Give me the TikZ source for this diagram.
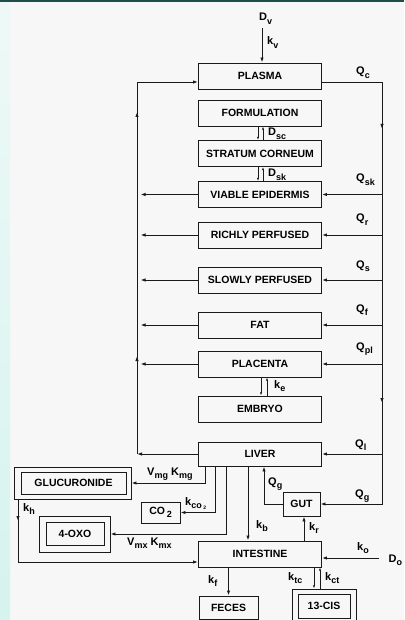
\documentclass[tikz,border=0pt]{standalone}
\usepackage{fontspec}
\setmainfont{Liberation Sans}
\usetikzlibrary{arrows.meta}
\newcommand\lo[1]{\raisebox{-3.4pt}{\fontsize{9}{10}\selectfont #1}}
\definecolor{ink}{HTML}{1A1A1A}
\definecolor{bgc}{HTML}{F7F7F7}
\definecolor{topband}{HTML}{1F4D47}
\definecolor{stripA}{HTML}{EEF9F7}
\definecolor{stripB}{HTML}{D6F3EE}
\begin{document}
\begin{tikzpicture}[x=1pt,y=-1pt,
  ln/.style={draw=ink, line width=0.95pt},
  arr/.style={ln, -{Latex[length=5pt,width=3.4pt]}},
  sarr/.style={draw=ink, line width=0.8pt, -{Latex[length=3.2pt,width=2.2pt]}},
  boxfont/.style={font=\fontsize{10.5}{12}\selectfont\bfseries},
  mbox/.style={boxfont, draw=ink, line width=0.95pt, minimum width=123pt, minimum height=26pt, inner sep=0pt},
  sbox/.style={boxfont, draw=ink, line width=0.95pt, inner sep=0pt},
  lbl/.style={font=\fontsize{11}{12}\selectfont\bfseries, inner sep=0pt, anchor=base west}]
\fill[bgc] (0,0) rectangle (404,620);
\shade[top color=stripA, bottom color=stripB] (0,0) rectangle (10,620);
\fill[topband] (0,0) rectangle (404,2.5);
\useasboundingbox (0,0) rectangle (404,620);

% main column
\node[mbox] (plasma) at (260,76) {PLASMA};
\node[mbox] (formulation) at (260,113) {FORMULATION};
\node[mbox] (stratum) at (260,153.5) {STRATUM CORNEUM};
\node[mbox] (viable) at (260,194.5) {VIABLE EPIDERMIS};
\node[mbox] (richly) at (260,235) {RICHLY PERFUSED};
\node[mbox] (slowly) at (260,280) {SLOWLY PERFUSED};
\node[mbox] (fat) at (260,325) {FAT};
\node[mbox] (placenta) at (260,364) {PLACENTA};
\node[mbox] (embryo) at (260,409) {EMBRYO};
\node[mbox, minimum height=24pt] (liver) at (260,454) {LIVER};
\node[mbox] (intestine) at (260,554) {INTESTINE};

% side boxes
\node[sbox, minimum width=117pt, minimum height=32pt] (gluc) at (72.5,483) {};
\node[sbox, minimum width=105pt, minimum height=22pt] (glucin) at (73.5,483) {GLUCURONIDE};
\node[sbox, minimum width=39pt, minimum height=21pt] (co2) at (160.5,512.5) {CO\,\lo{2}};
\node[sbox, minimum width=71pt, minimum height=36pt] (oxo) at (74.5,534) {};
\node[sbox, minimum width=58pt, minimum height=23pt] (oxoin) at (75,533.5) {4-OXO};
\node[sbox, minimum width=37pt, minimum height=24pt] (gut) at (301.5,504) {GUT};
\node[sbox, minimum width=59pt, minimum height=23pt] (feces) at (228.5,607.5) {FECES};
\node[sbox, minimum width=64pt, minimum height=36pt] (cis) at (324,607) {};
\node[sbox, minimum width=52pt, minimum height=24pt] (cisin) at (324,606) {13-CIS};

% trunk coordinates
\coordinate (rtop) at (382,82);
\coordinate (rbot) at (382,504);
\coordinate (ltop) at (137,82);
\coordinate (lbot) at (137,454);

% right (arterial) trunk
\draw[arr] (plasma.east |- rtop) -- (rtop) -- (rbot) -- (gut.east);
\draw[arr] (382,120) -- (382,129);
\draw[arr] (382,394) -- (382,403);
\foreach \n in {viable,richly,slowly,fat,placenta,liver}
  \draw[arr] (rtop |- \n.east) -- (\n.east);

% left (venous) trunk
\draw[arr] (liver.west) -- (lbot);
\draw[arr] (lbot) -- (ltop) -- (plasma.west |- ltop);
\draw[arr] (137,122) -- (137,112);
\draw[arr] (137,366) -- (137,356);
\foreach \n in {viable,richly,slowly,fat,placenta}
  \draw[arr, shorten >=3.5pt] (\n.west) -- (\n.west -| lbot);

% dosing into plasma
\node[lbl] (dv) at (259,21) {D\lo{v}};
\coordinate (dvs) at (262,28);
\draw[arr] (dvs) -- (dvs |- plasma.north);
\node[lbl] (kv) at (267,45) {k\lo{v}};

% skin diffusion
\draw[sarr] ([xshift=-2pt]formulation.south) -- ([xshift=-2pt]stratum.north);
\draw[sarr] ([xshift=3pt]stratum.north) -- ([xshift=3pt]formulation.south);
\node[lbl] (dsc) at (268,136) {D\lo{sc}};
\draw[sarr] ([xshift=-2pt]stratum.south) -- ([xshift=-2pt]viable.north);
\draw[sarr] ([xshift=3pt]viable.north) -- ([xshift=3pt]stratum.south);
\node[lbl] (dsk) at (268,177) {D\lo{sk}};

% placenta - embryo
\draw[sarr] ([xshift=1pt]placenta.south) -- ([xshift=1pt]embryo.north);
\draw[sarr] ([xshift=7pt]embryo.north) -- ([xshift=7pt]placenta.south);
\node[lbl] (ke) at (274,388) {k\lo{e}};

% flow labels
\node[lbl] (qc) at (356,75) {Q\lo{c}};
\node[lbl] (qsk) at (356,182) {Q\lo{sk}};
\node[lbl] (qr) at (356,222) {Q\lo{r}};
\node[lbl] (qs) at (356,268) {Q\lo{s}};
\node[lbl] (qf) at (356,312) {Q\lo{f}};
\node[lbl] (qpl) at (356,350) {Q\lo{pl}};
\node[lbl] (ql) at (355,447) {Q\lo{l}};
\node[lbl] (qg) at (355,497) {Q\lo{g}};

% liver metabolism
\draw[arr] ([xshift=-55pt]liver.south) |- (gluc.east);
\node[lbl] (vmg) at (147,475) {V\lo{mg} K\lo{mg}};
\draw[arr] ([xshift=-45pt]liver.south) |- (co2.east);
\node[lbl] (kco) at (185,505) {k\lo{co\,\raisebox{-1.5pt}{\fontsize{5}{5}\selectfont 2}}};
\draw[arr] ([xshift=-34pt]liver.south) |- (oxo.east);
\node[lbl] (vmx) at (127,545) {V\lo{mx} K\lo{mx}};
\draw[arr] ([xshift=-12pt]liver.south) -- ([xshift=-12pt]intestine.north);
\node[lbl] (kb) at (256,528) {k\lo{b}};

% gut
\draw[arr] (gut.west) -| ([xshift=4pt]liver.south);
\node[lbl] (qg2) at (268,485) {Q\lo{g}};
\draw[arr] ([xshift=44pt]intestine.north) -- ([xshift=44pt]intestine.north |- gut.south);
\node[lbl] (kr) at (309,530) {k\lo{r}};

% enterohepatic
\draw[arr] ([xshift=-54.5pt]gluc.south) |- ([yshift=-8pt]intestine.west);
\draw[arr] (18,512) -- (18,521);
\node[lbl] (kh) at (23,511) {k\lo{h}};

% oral dose
\coordinate (ko) at (379,558);
\draw[arr] (ko) -- (intestine.east |- ko);
\node[lbl] (kol) at (357,550) {k\lo{o}};
\node[lbl] (do) at (388.5,562) {D\lo{o}};

% intestine outputs
\draw[arr] (feces.north |- intestine.south) -- (feces.north);
\node[lbl] (kf) at (208,583) {k\lo{f}};
\draw[sarr] ([xshift=-10pt]cis.north |- intestine.south) -- ([xshift=-10pt]cis.north);
\draw[sarr] ([xshift=-4pt]cis.north) -- ([xshift=-4pt]cis.north |- intestine.south);
\node[lbl] (ktc) at (288,580) {k\lo{tc}};
\node[lbl] (kct) at (325,580) {k\lo{ct}};
\end{tikzpicture}
\end{document}
